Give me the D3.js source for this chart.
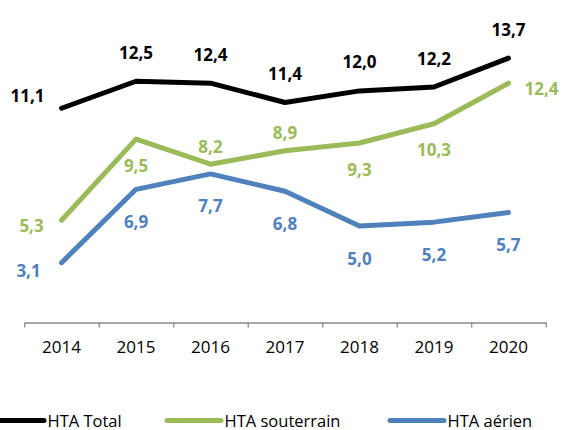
<!DOCTYPE html>
<html>
<head>
<meta charset="utf-8">
<script src="https://cdn.jsdelivr.net/npm/d3@7"></script>
<style>
  body { margin: 0; background: #fff; }
  svg { display: block; font-family: "Open Sans", sans-serif; }
</style>
</head>
<body>
<div id="chart-area"></div>
<script>
let years = ["2014", "2015", "2016", "2017", "2018", "2019", "2020"];
let seriesNames = ["HTA Total", "HTA souterrain", "HTA aérien"];

let totalValues = [11.1, 12.5, 12.4, 11.4, 12.0, 12.2, 13.7];
let souterrainValues = [5.3, 9.5, 8.2, 8.9, 9.3, 10.3, 12.4];
let aerienValues = [3.1, 6.9, 7.7, 6.8, 5.0, 5.2, 5.7];

// where each value label sits relative to its point
let totalPlacement = ["left", "above", "above", "above", "above", "above", "above"];
let souterrainPlacement = ["left", "below", "above", "above", "below", "below", "right"];
let aerienPlacement = ["left", "below", "below", "below", "below", "below", "below"];

let width = 563,
  height = 430;

let svg = d3
  .select("#chart-area")
  .append("svg")
  .attr("width", width)
  .attr("height", height);

let xScale = d3
  .scaleBand()
  .domain(years)
  .range([24.3, 545.7])
  .padding(0);

let yScale = d3
  .scaleLinear()
  .domain([0, 16])
  .range([322.5, 13.7]);

let series = [
  { name: seriesNames[0], values: totalValues, place: totalPlacement, color: "#000000",
    off: { above: [0, -29], left: [-34, -13] } },
  { name: seriesNames[1], values: souterrainValues, place: souterrainPlacement, color: "#9BBB59",
    off: { above: [0, -18], below: [0, 26], left: [-30, 5], right: [33, 5] } },
  { name: seriesNames[2], values: aerienValues, place: aerienPlacement, color: "#4F81BD",
    off: { below: [0, 32], left: [-33, 8] } }
];

// x axis: labels under band centres, tick marks at band edges
let axisG = svg.append("g").attr("transform", "translate(0," + yScale(0) + ")");

let edgeScale = d3.scaleLinear().domain([0, years.length]).range(xScale.range());
axisG
  .append("g")
  .call(
    d3.axisBottom(edgeScale)
      .tickValues(d3.range(years.length + 1))
      .tickSize(5)
      .tickSizeOuter(0)
      .tickFormat("")
  )
  .call(g => g.selectAll("path, line").attr("stroke", "#8a8a8a").attr("stroke-width", 1.3));

axisG
  .append("g")
  .call(d3.axisBottom(xScale).tickSize(0).tickPadding(18))
  .call(g => g.select(".domain").remove())
  .call(g =>
    g.selectAll("text")
      .attr("fill", "#000")
      .style("font-family", "'Open Sans', sans-serif")
      .style("font-size", "17px")
  );

let line = d3
  .line()
  .x((d, i) => xScale(years[i]) + xScale.bandwidth() / 2)
  .y(d => yScale(d));

let fmt = d3.format(".1f");

series.forEach(function(s) {
  svg
    .append("path")
    .datum(s.values)
    .attr("d", line)
    .attr("fill", "none")
    .attr("stroke", s.color)
    .attr("stroke-width", 5)
    .attr("stroke-linejoin", "round")
    .attr("stroke-linecap", "round");

  svg
    .append("g")
    .selectAll("text")
    .data(s.values)
    .enter()
    .append("text")
    .attr("x", (d, i) => xScale(years[i]) + xScale.bandwidth() / 2 + s.off[s.place[i]][0])
    .attr("y", (d, i) => yScale(d) + s.off[s.place[i]][1])
    .attr("text-anchor", "middle")
    .attr("dominant-baseline", "central")
    .attr("fill", s.color)
    .style("font-size", "17px")
    .style("font-weight", "bold")
    .text(d => fmt(d).replace(".", ","));
});

// legend (first entry starts off the left edge, as in the original)
let legendX = [-10, 167, 390];
let legend = svg
  .append("g")
  .selectAll("g")
  .data(series)
  .enter()
  .append("g")
  .attr("transform", (d, i) => "translate(" + legendX[i] + ",420.5)");

legend
  .append("line")
  .attr("x1", 0)
  .attr("x2", 54)
  .attr("stroke", d => d.color)
  .attr("stroke-width", 5)
  .attr("stroke-linecap", "round");

legend
  .append("text")
  .attr("x", 57.5)
  .attr("y", 6)
  .attr("fill", "#000")
  .style("font-size", "16.5px")
  .text(d => d.name);
</script>
</body>
</html>
